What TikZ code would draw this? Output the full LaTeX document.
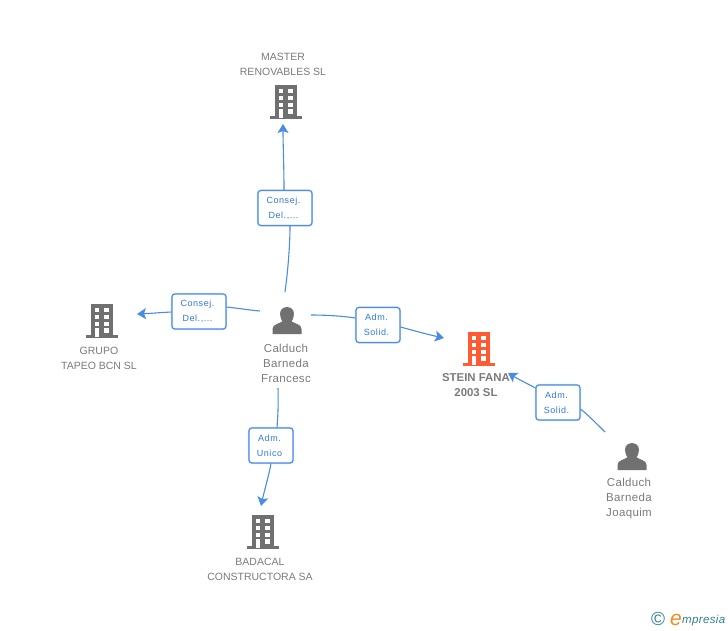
\documentclass[tikz,border=0pt]{standalone}
\usepackage{fontspec}
\setmainfont{Liberation Sans}
\newfontfamily\spaced[LetterSpace=6]{Liberation Sans}
\newfontfamily\lightspaced[LetterSpace=3]{Liberation Sans}
\usetikzlibrary{arrows.meta}
\definecolor{linkblue}{HTML}{4A8BE3}
\definecolor{labblue}{HTML}{2F78E0}
\definecolor{icongrey}{HTML}{707070}
\definecolor{txtgrey}{HTML}{7A7A7A}
\definecolor{hotred}{HTML}{FF5A33}
\definecolor{logoteal}{HTML}{2F7F95}
\definecolor{logoorange}{HTML}{F08A1D}
\newcommand{\rl}[1]{\raisebox{-1pt}{#1\hspace{3pt}}}
\tikzset{
  link/.style={draw=linkblue,line width=1.1pt},
  linkarrow/.style={link,-{Stealth[length=9pt,width=11pt,inset=2pt]}},
  rolebox/.style={draw=linkblue,line width=1.1pt,rounded corners=3pt,fill=white,
    preaction={draw=linkblue!30,line width=2.4pt},
    minimum width=#1,minimum height=35pt,inner sep=0pt,align=center,
    text=labblue,font=\spaced\fontsize{9}{15}\selectfont},
  rolebox/.default=54pt,
  name text/.style={text=txtgrey,align=center,inner sep=0pt,font=\fontsize{10.5}{15}\selectfont},
  person text/.style={text=txtgrey,align=center,inner sep=0pt,font=\lightspaced\fontsize{11.5}{15}\selectfont},
  pics/building/.style={code={
    \fill[#1] (-11,-17) rectangle (11,14);
    \fill[#1] (-16,14) rectangle (16,17);
    \foreach \yy in {-13,-6,1}{
      \fill[white] (-7,\yy) rectangle (-3,\yy+4);
      \fill[white] (2,\yy) rectangle (7,\yy+4);
    }
    \fill[white] (2,7) rectangle (7,11.5);
    \fill[white] (-7,7) rectangle (-3,15.5);
  }},
  pics/person/.style={code={
    \fill[icongrey] (-14.5,13) -- (-14.5,8) .. controls (-14.5,3) and (-8,3) .. (-4,0)
      -- (4,0) .. controls (8,3) and (14.5,3) .. (14.5,8) -- (14.5,13) -- cycle;
    \fill[icongrey] (0,-14) .. controls (6,-14) and (8,-9) .. (6.5,-4)
      .. controls (5.5,0) and (3,3) .. (0,3) .. controls (-3,3) and (-5.5,0) .. (-6.5,-4)
      .. controls (-8,-9) and (-6,-14) .. (0,-14) -- cycle;
  }},
  logo part/.style={inner sep=0pt,minimum size=0pt}
}
\begin{document}
\begin{tikzpicture}[x=1pt,y=-1pt]
\useasboundingbox (0,0) rectangle (728,630);
% icons
\pic at (286,102) {building=icongrey};
\pic at (102,321) {building=icongrey};
\pic at (478.5,349) {building=hotred};
\pic at (263,532) {building=icongrey};
\pic at (287,321) {person};
\pic at (632,457) {person};
% entity labels
\node[name text] (master) at (283,64) {MASTER\\RENOVABLES SL};
\node[name text] (tapeo) at (99,358) {GRUPO\\TAPEO BCN SL};
\node[name text,font=\fontsize{11.4}{15}\selectfont\bfseries] (stein) at (476,385) {STEIN FANA\\2003 SL};
\node[name text] (badacal) at (260,569) {BADACAL\\CONSTRUCTORA SA};
\node[person text] (francesc) at (286,363) {Calduch\\Barneda\\Francesc};
\node[person text] (joaquim) at (629,499) {Calduch\\Barneda\\Joaquim};
% role boxes
\node[rolebox] (b1) at (285,208) {\rl{Consej.}\\\rl{Del.,...}};
\node[rolebox] (b2) at (199,311.5) {\rl{Consej.}\\\rl{Del.,...}};
\node[rolebox=44pt] (b3) at (378,325) {\rl{Adm.}\\\rl{Solid.}};
\node[rolebox=44pt] (b4) at (271,445.5) {\rl{Adm.}\\\rl{Unico}};
\node[rolebox=44pt] (b5) at (558,402.5) {\rl{Adm.}\\\rl{Solid.}};
% connector ends
\coordinate (fT) at (285,292);
\coordinate (fL) at (260,311);
\coordinate (fR) at (311,315);
\coordinate (fB) at (278,388);
\coordinate (jT) at (605,432);
\coordinate (tM) at (283,124);
\coordinate (tT) at (137,314);
\coordinate (tS) at (444,338);
\coordinate (tB) at (261,506);
\coordinate (tJ) at (508,373);
% connectors
\draw[link] (fT) .. controls (288,270) and (290,245) .. (b1.south -| 290,0);
\draw[linkarrow] (b1.north -| 284,0) .. controls (284,165) and (283,145) .. (tM);
\draw[link] (fL) .. controls (248,310) and (237,308) .. (b2.east |- 0,307);
\draw[linkarrow] (b2.west |- 0,312) .. controls (160,312.5) and (150,313.5) .. (tT);
\draw[link] (fR) .. controls (326,315) and (342,316) .. (b3.west |- 0,318);
\draw[linkarrow] (b3.east |- 0,327) .. controls (415,331) and (430,335) .. (tS);
\draw[link] (fB) .. controls (278.5,402) and (278,415) .. (b4.north -| 277,0);
\draw[linkarrow] (b4.south -| 271,0) .. controls (269,475) and (264,492) .. (tB);
\draw[link] (jT) .. controls (597,424) and (588,415) .. (b5.east |- 0,409);
\draw[linkarrow] (b5.west |- 0,388) .. controls (528,384) and (518,379) .. (tJ);
% logo
\node[logo part,text=logoteal,font=\fontsize{19}{19}\selectfont] (copy) at (658,619) {©};
\node[logo part,anchor=base west,text=logoorange,font=\fontsize{21}{21}\selectfont\itshape] (logoe) at (670,625) {e};
\node[logo part,anchor=base west,text=logoteal,font=\lightspaced\fontsize{11.5}{12}\selectfont\itshape] (logot) at (682,623) {mpresia};
\end{tikzpicture}
\end{document}
